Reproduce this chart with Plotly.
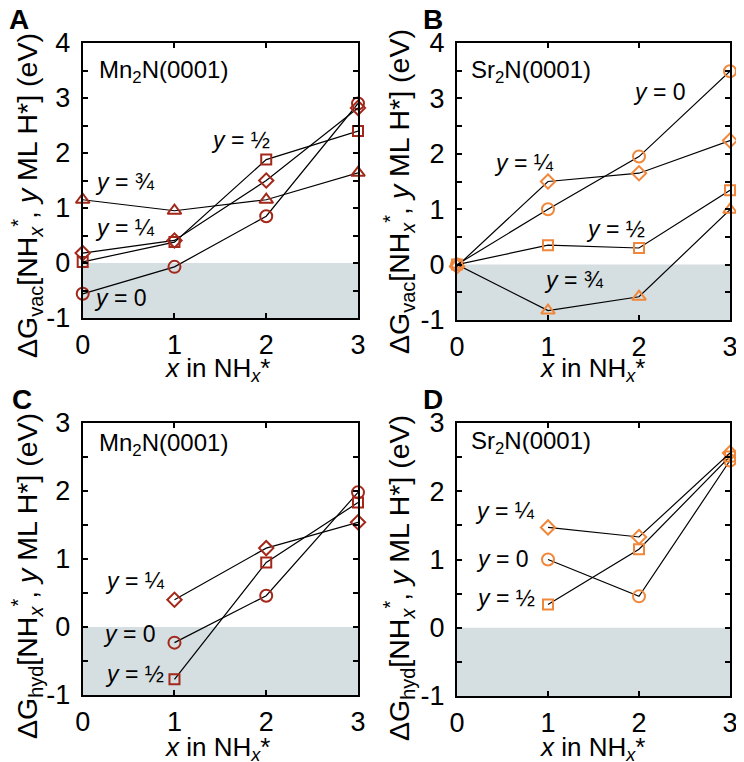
import plotly.graph_objects as go

# x positions (x in NH_x*)
x_vac = [0, 1, 2, 3]
x_hyd = [1, 2, 3]

# panel A: Mn2N(0001), dG_vac
mn_vac_y0 = [-0.56, -0.07, 0.85, 2.90]
mn_vac_y14 = [0.18, 0.41, 1.50, 2.82]
mn_vac_y12 = [0.02, 0.38, 1.88, 2.40]
mn_vac_y34 = [1.15, 0.95, 1.15, 1.64]

# panel B: Sr2N(0001), dG_vac
sr_vac_y0 = [0.0, 1.00, 1.95, 3.49]
sr_vac_y14 = [-0.03, 1.50, 1.65, 2.24]
sr_vac_y12 = [0.0, 0.35, 0.30, 1.34]
sr_vac_y34 = [0.0, -0.83, -0.58, 0.99]

# panel C: Mn2N(0001), dG_hyd
mn_hyd_y0 = [-0.23, 0.46, 1.98]
mn_hyd_y14 = [0.40, 1.16, 1.54]
mn_hyd_y12 = [-0.77, 0.95, 1.83]

# panel D: Sr2N(0001), dG_hyd
sr_hyd_y0 = [1.00, 0.46, 2.45]
sr_hyd_y14 = [1.47, 1.33, 2.56]
sr_hyd_y12 = [0.34, 1.15, 2.51]

RED = "#a3281a"
ORANGE = "#f0873a"
FONT = "Liberation Sans, Arial, sans-serif"
MSIZE = {"circle-open": 12, "square-open": 10, "diamond-open": 11, "triangle-up-open": 12}

# the page body has an 8px margin, so the figure is drawn 8px smaller and
# all page coordinates below are shifted by OFF
OFF = 8
W, H = 744 - OFF, 762 - OFF
fig = go.Figure()

def px_x(p):
    return (p - OFF) / W

def px_y(p):
    return 1 - (p - OFF) / H

panels = [
    # (xaxis, yaxis, xdomain px, ydomain px, yrange, color, series)
    ("x", "y", [82.7, 358], [43, 318], [-1, 4], RED,
     [(x_vac, mn_vac_y0, "circle-open"), (x_vac, mn_vac_y12, "square-open"),
      (x_vac, mn_vac_y14, "diamond-open"), (x_vac, mn_vac_y34, "triangle-up-open")]),
    ("x2", "y2", [457, 730], [43, 320], [-1, 4], ORANGE,
     [(x_vac, sr_vac_y34, "triangle-up-open"), (x_vac, sr_vac_y14, "diamond-open"),
      (x_vac, sr_vac_y0, "circle-open"), (x_vac, sr_vac_y12, "square-open")]),
    ("x3", "y3", [82.7, 358], [423, 695], [-1, 3], RED,
     [(x_hyd, mn_hyd_y0, "circle-open"), (x_hyd, mn_hyd_y12, "square-open"),
      (x_hyd, mn_hyd_y14, "diamond-open")]),
    ("x4", "y4", [457, 730], [423, 696], [-1, 3], ORANGE,
     [(x_hyd, sr_hyd_y0, "circle-open"), (x_hyd, sr_hyd_y12, "square-open"),
      (x_hyd, sr_hyd_y14, "diamond-open")]),
]

for i, (xa, ya, xd, yd, yr, col, series) in enumerate(panels):
    for xs, ys, sym in series:
        fig.add_trace(go.Scatter(
            x=xs, y=ys, xaxis=xa, yaxis=ya, mode="lines+markers",
            line=dict(color="black", width=1.2),
            marker=dict(symbol=sym, size=MSIZE[sym],
                        color=col, line=dict(width=2, color=col)),
            cliponaxis=False, showlegend=False))
    # unfavourable region shading
    fig.add_shape(type="rect", xref=xa, yref=ya, x0=0, x1=3, y0=-1, y1=0,
                  fillcolor="#d5dee0", line_width=0, layer="below")
    suffix = "" if i == 0 else str(i + 1)
    yt = [v / 2 for v in range(yr[0] * 2, yr[1] * 2 + 1)]
    ax_common = dict(showline=True, linecolor="black", linewidth=2, mirror="ticks",
                     ticks="inside", ticklen=5, tickwidth=1.5, tickcolor="black",
                     showgrid=False, zeroline=False, automargin=False,
                     tickfont=dict(family=FONT, size=27, color="black"))
    fig.layout["xaxis" + suffix] = dict(
        domain=[px_x(xd[0]), px_x(xd[1])], anchor=ya, range=[0, 3],
        tickvals=[0, 1, 2, 3], ticklabelstandoff=2, **ax_common)
    fig.layout["yaxis" + suffix] = dict(
        domain=[px_y(yd[1]), px_y(yd[0])], anchor=xa, range=yr,
        tickvals=yt, ticktext=[str(int(v)) if v == int(v) else "" for v in yt],
        ticklabelstandoff=5, **ax_common)

ann = []

def txt(x, y, s, size=21, **kw):
    ann.append(dict(x=px_x(x), y=px_y(y), xref="paper", yref="paper", text=s,
                    xanchor="center", yanchor="middle", showarrow=False,
                    font=dict(family=FONT, size=size, color="black"), **kw))

# panel letters
for lx, ly, s in [(19, 20, "A"), (433, 20, "B"), (22, 399, "C"), (433, 399, "D")]:
    txt(lx, ly, "<b>" + s + "</b>", size=28)

# axis titles
vac_title = "ΔG<sub>vac</sub>[NH<sub><i>x</i></sub><sup>*</sup>, <i>y</i> ML H*] (eV)"
hyd_title = "ΔG<sub>hyd</sub>[NH<sub><i>x</i></sub><sup>*</sup>, <i>y</i> ML H*] (eV)"
x_title = "<i>x</i> in NH<sub><i>x</i></sub>*"
txt(27, 196, vac_title, size=28.5, textangle=-90)
txt(399, 192, vac_title, size=28.5, textangle=-90)
txt(27, 576, hyd_title, size=28.5, textangle=-90)
txt(399, 578, hyd_title, size=28.5, textangle=-90)
txt(217, 369, x_title, size=26)
txt(592, 369, x_title, size=26)
txt(217, 748, x_title, size=26)
txt(592, 748, x_title, size=26)

# surface labels
txt(163, 72, "Mn<sub>2</sub>N(0001)", size=24)
txt(531, 72, "Sr<sub>2</sub>N(0001)", size=24)
txt(163, 444, "Mn<sub>2</sub>N(0001)", size=24)
txt(531, 443, "Sr<sub>2</sub>N(0001)", size=24)

# coverage labels
for lx, ly, s in [(240, 140, "½"), (125, 182, "¾"), (125, 228, "¼"), (120, 298, "0"),
                  (659, 92, "0"), (524, 163, "¼"), (615, 229, "½"), (574, 280, "¾"),
                  (135, 581, "¼"), (130, 634, "0"), (135, 674, "½"),
                  (505, 511, "¼"), (502, 559, "0"), (505, 598, "½")]:
    txt(lx, ly, "<i>y</i> = " + s, size=23)

fig.update_layout(width=W, height=H, margin=dict(l=0, r=0, t=0, b=0, autoexpand=False),
                  paper_bgcolor="white", plot_bgcolor="white",
                  annotations=ann, font=dict(family=FONT))
fig.write_html("out.html")
